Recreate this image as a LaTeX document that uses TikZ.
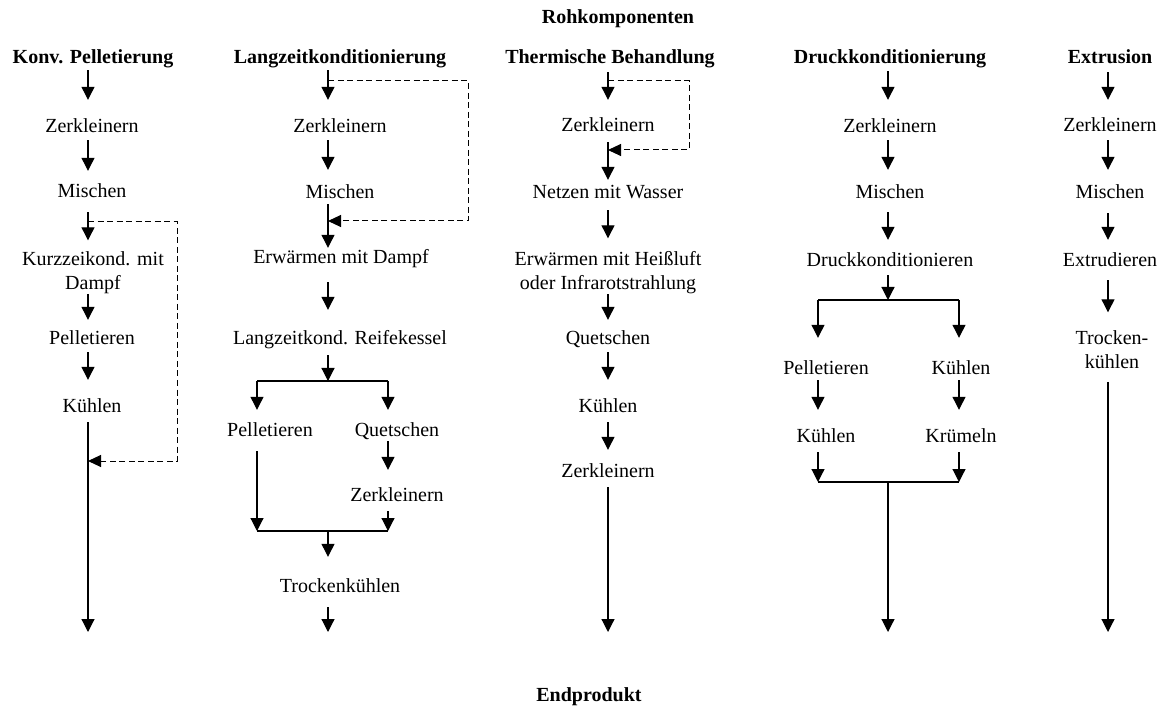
\documentclass[tikz,border=0pt]{standalone}
\usepackage{fontspec}
\setmainfont{Liberation Serif}
\usetikzlibrary{arrows.meta}
\begin{document}
\begin{tikzpicture}[x=1pt,y=-1pt,
  txt/.style={font=\fontsize{20}{24}\selectfont, inner sep=0pt, text height=13pt, text depth=5pt, anchor=base},
  txtm/.style={font=\fontsize{20}{24}\selectfont, inner sep=0pt, align=center, anchor=north},
  ttl/.style={txt, font=\fontsize{20}{24}\selectfont\bfseries},
  ln/.style={draw, line width=1.2pt},
  flow/.style={ln, -{Triangle[width=13pt,length=13pt]}, shorten <=3pt, shorten >=16pt},
  fb/.style={draw, line width=1pt, dash pattern=on 6pt off 3.5pt, -{Triangle[width=12pt,length=13pt]}},
]
\useasboundingbox (0,0) rectangle (1167,708);

% axes and junctions
\coordinate (c1) at (88,0);
\coordinate (c2) at (328,0);
\coordinate (c3) at (608,0);
\coordinate (c4) at (888,0);
\coordinate (c5) at (1108,0);
\coordinate (end1) at (88,632);
\coordinate (end2) at (328,632);
\coordinate (end3) at (608,632);
\coordinate (end4) at (888,632);
\coordinate (end5) at (1108,632);

% headings
\node[ttl] (roh) at (618,24) {Rohkomponenten};
\node[ttl] (endp) at (589,701) {Endprodukt};

% ---------- column 1
\node[ttl] (T1) at (93,64) {Konv. Pelletierung};
\node[txt] (k1) at (92,133) {Zerkleinern};
\node[txt] (k2) at (92,198) {Mischen};
\node[txtm] (k3) at (93,251.3) {Kurzzeikond. mit\\Dampf};
\node[txt] (k4) at (92,345) {Pelletieren};
\node[txt] (k5) at (92,412) {Kühlen};
\draw[flow, shorten <=1pt, shorten >=20pt] (T1.south -| c1) -- (k1.north -| c1);
\draw[flow, shorten <=2pt, shorten >=14pt] (k1.south -| c1) -- (k2.north -| c1);
\draw[flow, shorten <=9pt, shorten >=11pt] (k2.south -| c1) -- (k3.north -| c1);
\draw[flow, shorten <=0pt, shorten >=12pt] (k3.south -| c1) -- (k4.north -| c1);
\draw[flow, shorten <=2pt, shorten >=19pt] (k4.south -| c1) -- (k5.north -| c1);
\draw[flow, shorten <=5pt, shorten >=0pt] (k5.south -| c1) -- (end1);
\coordinate (k2m) at (88,222);
\coordinate (k5m) at (88,461);
\draw[fb] (k2m) -- ++(89,0) |- (k5m);

% ---------- column 2
\node[ttl] (T2) at (340,64) {Langzeitkonditionierung};
\node[txt] (l1) at (340,133) {Zerkleinern};
\node[txt] (l2) at (340,199) {Mischen};
\node[txt] (l3) at (341,264) {Erwärmen mit Dampf};
\node[txt] (l4) at (340,345) {Langzeitkond. Reifekessel};
\node[txt] (l5) at (270,436) {Pelletieren};
\node[txt] (l6) at (397,436) {Quetschen};
\node[txt] (l7) at (397,501) {Zerkleinern};
\node[txt] (l8) at (340,592) {Trockenkühlen};
\coordinate (br2) at (328,381);
\coordinate (br2l) at (257,381);
\coordinate (br2r) at (388,381);
\coordinate (j2) at (328,531);
\coordinate (j2l) at (257,531);
\coordinate (j2r) at (388,531);
\draw[flow, shorten <=1pt, shorten >=20pt] (T2.south -| c2) -- (l1.north -| c2);
\draw[flow, shorten <=2pt, shorten >=16pt] (l1.south -| c2) -- (l2.north -| c2);
\draw[flow, shorten <=0pt, shorten >=3pt] (l2.south -| c2) -- (l3.north -| c2);
\draw[flow, shorten <=13pt, shorten >=22pt] (l3.south -| c2) -- (l4.north -| c2);
\draw[flow, shorten <=5pt, shorten >=0pt] (l4.south -| c2) -- (br2);
\draw[ln] (br2l) -- (br2r);
\draw[flow, shorten <=0pt, shorten >=13pt] (br2l) -- (br2l |- l5.north);
\draw[flow, shorten <=0pt, shorten >=13pt] (br2r) -- (br2r |- l6.north);
\draw[flow, shorten <=10pt, shorten >=0pt] (l5.south -| j2l) -- (j2l);
\draw[flow, shorten <=0pt, shorten >=18pt] (l6.south -| br2r) -- (l7.north -| br2r);
\draw[flow, shorten <=5pt, shorten >=0pt] (l7.south -| j2r) -- (j2r);
\draw[ln] (j2l) -- (j2r);
\draw[flow, shorten <=0pt, shorten >=22pt] (j2) -- (l8.north -| j2);
\draw[flow, shorten <=10pt, shorten >=0pt] (l8.south -| c2) -- (end2);
\coordinate (l0d) at (328,81);
\coordinate (l2d) at (328,221);
\draw[fb] (l0d) -- ++(140,0) |- (l2d);

% ---------- column 3
\node[ttl] (T3) at (610,64) {Thermische Behandlung};
\node[txt] (t1) at (608,132) {Zerkleinern};
\node[txt] (t2) at (608,199) {Netzen mit Wasser};
\node[txtm] (t3) at (608,251.3) {Erwärmen mit Heißluft\\oder Infrarotstrahlung};
\node[txt] (t4) at (608,345) {Quetschen};
\node[txt] (t5) at (608,412) {Kühlen};
\node[txt] (t6) at (608,477) {Zerkleinern};
\draw[flow, shorten <=3pt, shorten >=19pt] (T3.south -| c3) -- (t1.north -| c3);
\draw[flow, shorten <=5pt, shorten >=6pt] (t1.south -| c3) -- (t2.north -| c3);
\draw[flow, shorten <=6pt, shorten >=13pt] (t2.south -| c3) -- (t3.north -| c3);
\draw[flow, shorten <=0pt, shorten >=12pt] (t3.south -| c3) -- (t4.north -| c3);
\draw[flow, shorten <=2pt, shorten >=19pt] (t4.south -| c3) -- (t5.north -| c3);
\draw[flow, shorten <=5pt, shorten >=14pt] (t5.south -| c3) -- (t6.north -| c3);
\draw[flow, shorten <=5pt, shorten >=0pt] (t6.south -| c3) -- (end3);
\coordinate (t0d) at (608,81);
\coordinate (t1d) at (608,150);
\draw[fb] (t0d) -- ++(81,0) |- (t1d);

% ---------- column 4
\node[ttl] (T4) at (890,64) {Druckkonditionierung};
\node[txt] (d1) at (890,133) {Zerkleinern};
\node[txt] (d2) at (890,199) {Mischen};
\node[txt] (d3) at (890,267) {Druckkonditionieren};
\node[txt] (d4) at (826,374) {Pelletieren};
\node[txt] (d5) at (961,374) {Kühlen};
\node[txt] (d6) at (826,442) {Kühlen};
\node[txt] (d7) at (961,442) {Krümeln};
\coordinate (br4) at (888,300);
\coordinate (br4l) at (818,300);
\coordinate (br4r) at (959,300);
\coordinate (j4) at (888,482);
\coordinate (j4l) at (818,482);
\coordinate (j4r) at (959,482);
\draw[flow, shorten <=2pt, shorten >=20pt] (T4.south -| c4) -- (d1.north -| c4);
\draw[flow, shorten <=2pt, shorten >=16pt] (d1.south -| c4) -- (d2.north -| c4);
\draw[flow, shorten <=8pt, shorten >=14pt] (d2.south -| c4) -- (d3.north -| c4);
\draw[flow, shorten <=3pt, shorten >=0pt] (d3.south -| c4) -- (br4);
\draw[ln] (br4l) -- (br4r);
\draw[flow, shorten <=0pt, shorten >=23pt] (br4l) -- (br4l |- d4.north);
\draw[flow, shorten <=0pt, shorten >=23pt] (br4r) -- (br4r |- d5.north);
\draw[flow, shorten <=1pt, shorten >=19pt] (d4.south -| br4l) -- (d6.north -| br4l);
\draw[flow, shorten <=1pt, shorten >=19pt] (d5.south -| br4r) -- (d7.north -| br4r);
\draw[flow, shorten <=5pt, shorten >=0pt] (d6.south -| j4l) -- (j4l);
\draw[flow, shorten <=5pt, shorten >=0pt] (d7.south -| j4r) -- (j4r);
\draw[ln] (j4l) -- (j4r);
\draw[flow, shorten <=0pt, shorten >=0pt] (j4) -- (end4);

% ---------- column 5
\node[ttl] (T5) at (1110,64) {Extrusion};
\node[txt] (e1) at (1110,132) {Zerkleinern};
\node[txt] (e2) at (1110,199) {Mischen};
\node[txt] (e3) at (1110,267) {Extrudieren};
\node[txtm] (e4) at (1112,330.3) {Trocken-\\kühlen};
\draw[flow, shorten <=3pt, shorten >=19pt] (T5.south -| c5) -- (e1.north -| c5);
\draw[flow, shorten <=3pt, shorten >=16pt] (e1.south -| c5) -- (e2.north -| c5);
\draw[flow, shorten <=9pt, shorten >=14pt] (e2.south -| c5) -- (e3.north -| c5);
\draw[flow, shorten <=8pt, shorten >=18pt] (e3.south -| c5) -- (e4.north -| c5);
\draw[flow, shorten <=13pt, shorten >=0pt] (e4.south -| c5) -- (end5);
\end{tikzpicture}
\end{document}
